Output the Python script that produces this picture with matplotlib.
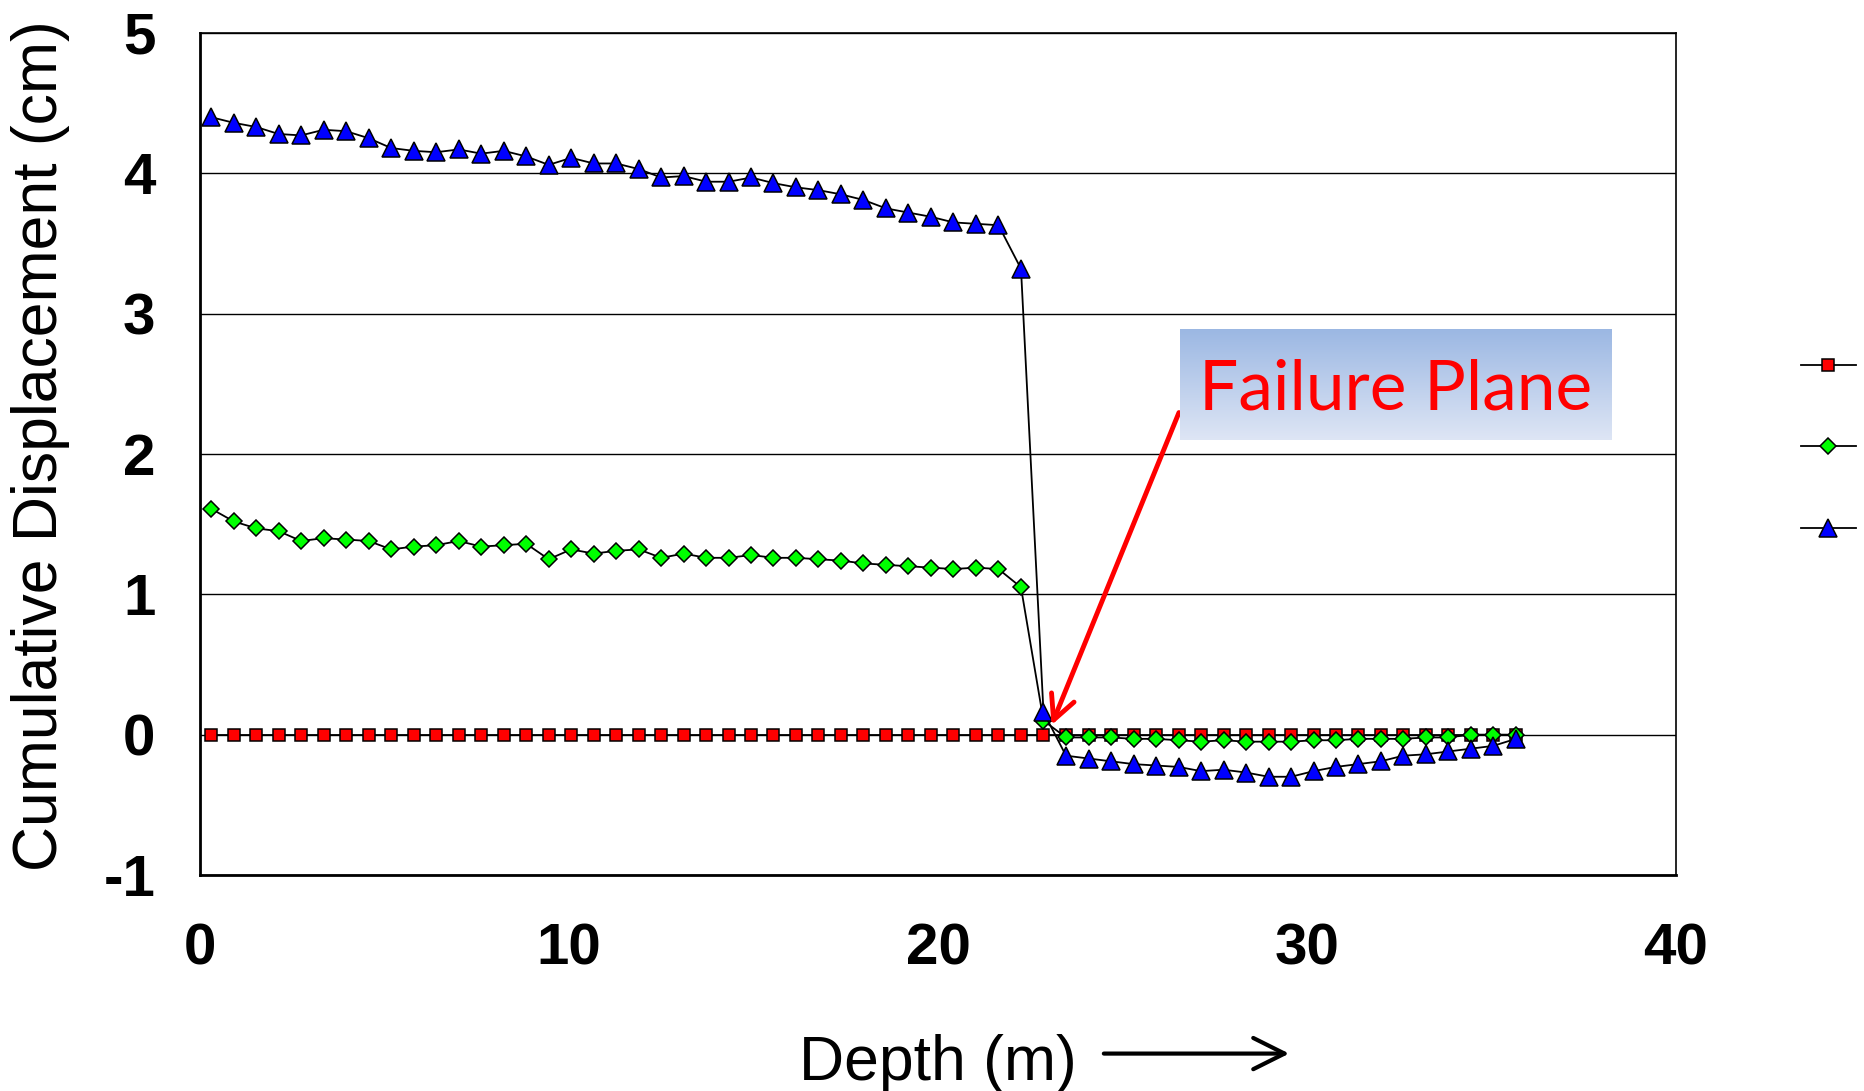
import matplotlib
matplotlib.use("Agg")
import matplotlib.pyplot as plt
import numpy as np
from matplotlib.lines import Line2D

plt.rcParams['font.family'] = ['Liberation Sans', 'DejaVu Sans']
plt.rcParams['axes.unicode_minus'] = False

# depth of each reading (m), one every 2 ft
depth = [0.30, 0.91, 1.52, 2.13, 2.74, 3.35, 3.96, 4.57, 5.18, 5.79,
         6.40, 7.01, 7.62, 8.23, 8.84, 9.45, 10.06, 10.67, 11.28, 11.89,
         12.50, 13.11, 13.72, 14.33, 14.94, 15.54, 16.15, 16.76, 17.37, 17.98,
         18.59, 19.20, 19.81, 20.42, 21.03, 21.64, 22.25, 22.86, 23.47, 24.08,
         24.69, 25.30, 25.91, 26.52, 27.13, 27.74, 28.35, 28.96, 29.57, 30.18,
         30.78, 31.39, 32.00, 32.61, 33.22, 33.83, 34.44, 35.05, 35.66]

# cumulative displacement (cm) for the three readings
disp_red = [0.0, 0.0, 0.0, 0.0, 0.0, 0.0, 0.0, 0.0, 0.0, 0.0,
            0.0, 0.0, 0.0, 0.0, 0.0, 0.0, 0.0, 0.0, 0.0, 0.0,
            0.0, 0.0, 0.0, 0.0, 0.0, 0.0, 0.0, 0.0, 0.0, 0.0,
            0.0, 0.0, 0.0, 0.0, 0.0, 0.0, 0.0, 0.0, 0.0, 0.0,
            0.0, 0.0, 0.0, 0.0, 0.0, 0.0, 0.0, 0.0, 0.0, 0.0,
            0.0, 0.0, 0.0, 0.0, 0.0, 0.0, 0.0, 0.0, 0.0]

disp_green = [1.61, 1.52, 1.47, 1.45, 1.38, 1.40, 1.39, 1.38, 1.32, 1.34,
              1.35, 1.38, 1.34, 1.35, 1.36, 1.25, 1.32, 1.29, 1.31, 1.32,
              1.26, 1.29, 1.26, 1.26, 1.28, 1.26, 1.26, 1.25, 1.24, 1.22,
              1.21, 1.20, 1.19, 1.18, 1.19, 1.18, 1.05, 0.10,
              -0.02, -0.02, -0.02, -0.03, -0.03, -0.04, -0.05, -0.04, -0.05, -0.05,
              -0.05, -0.04, -0.04, -0.03, -0.03, -0.03, -0.02, -0.02, 0.0, 0.0, 0.0]

disp_blue = [4.40, 4.36, 4.33, 4.28, 4.27, 4.31, 4.30, 4.25, 4.18, 4.16,
             4.15, 4.17, 4.14, 4.16, 4.12, 4.06, 4.11, 4.07, 4.07, 4.03,
             3.97, 3.98, 3.94, 3.94, 3.97, 3.93, 3.90, 3.88, 3.85, 3.81,
             3.75, 3.72, 3.69, 3.65, 3.64, 3.63, 3.32, 0.16,
             -0.15, -0.17, -0.19, -0.21, -0.22, -0.23, -0.26, -0.25, -0.27, -0.30,
             -0.30, -0.26, -0.23, -0.21, -0.19, -0.15, -0.14, -0.12, -0.10, -0.08, -0.03]

x_ticks = [0, 10, 20, 30, 40]
y_ticks = [-1, 0, 1, 2, 3, 4, 5]

fig = plt.figure(figsize=(18.64, 10.91), dpi=100)
ax = fig.add_axes([0.1073, 0.198, 0.7918, 0.7718])

series = [
    (disp_red, 's', '#ff0000', 9),
    (disp_green, 'D', '#00ff00', 8),
    (disp_blue, '^', '#0000ff', 12.5),
]
handles = []
for vals, mk, col, ms in series:
    ax.plot(depth, vals, color='black', lw=1.3, marker=mk, markersize=ms,
            markerfacecolor=col, markeredgecolor='black', markeredgewidth=1.1,
            zorder=3)
    handles.append(Line2D([], [], color='black', lw=1.3, marker=mk, markersize=ms,
                          markerfacecolor=col, markeredgecolor='black',
                          markeredgewidth=1.1))

ax.set_xlim(0, 40)
ax.set_ylim(-1, 5)
ax.set_xticks(x_ticks)
ax.set_yticks(y_ticks)
ax.yaxis.grid(True, color='black', lw=1.0)
ax.set_axisbelow(True)
ax.tick_params(length=0, labelsize=42)
ax.tick_params(axis='x', pad=34)
ax.tick_params(axis='y', pad=32)
for lab in ax.get_xticklabels() + ax.get_yticklabels():
    lab.set_fontweight('bold')

for side in ['left', 'bottom']:
    ax.spines[side].set_linewidth(2.0)
for side in ['top', 'right']:
    ax.spines[side].set_linewidth(1.2)

ax.set_ylabel('Cumulative Displacement (cm)', fontsize=45, va='center')
ax.yaxis.set_label_coords(-0.108, 0.51)
ax.set_xlabel('Depth (m)', fontsize=45, va='baseline')
ax.xaxis.set_label_coords(0.5, -0.2435)

# arrow after the x label
fig.patches.append(matplotlib.patches.FancyArrowPatch(
    (0.5907, 0.0343), (0.6931, 0.0343), transform=fig.transFigure,
    arrowstyle='->, head_length=0.9, head_width=0.45', mutation_scale=25,
    lw=3, color='black'))

# legend without labels, right of the plot
fig.legend(handles, [' ', ' ', ' '], loc='center', bbox_to_anchor=(0.983, 0.5885),
           frameon=False, fontsize=20, handlelength=1.95, handletextpad=0.0,
           labelspacing=2.0, borderpad=0)

# "Failure Plane" box with gradient fill
box = fig.add_axes([1180 / 1864, 1 - 440 / 1091, 432 / 1864, 111 / 1091])
top_col = np.array([0.61, 0.72, 0.89])
bot_col = np.array([0.87, 0.90, 0.96])
t = np.linspace(0, 1, 100)[:, None]
grad = (top_col[None, :] * (1 - t) + bot_col[None, :] * t)[:, None, :]
box.imshow(grad, aspect='auto', extent=[0, 1, 0, 1])
box.set_axis_off()
box.text(0.5, 0.45, 'Failure Plane', color='#ff0000', fontsize=50,
         family=['Lato', 'DejaVu Sans'], ha='center', va='center',
         transform=box.transAxes)

ax.annotate('', xy=(23.05, 0.05), xycoords='data',
            xytext=(1180 / 1864, 1 - 410 / 1091), textcoords='figure fraction',
            arrowprops=dict(arrowstyle='->, head_length=0.7, head_width=0.35',
                            mutation_scale=25, lw=3.5, color='#ff0000'),
            zorder=5)

plt.savefig('out.png', dpi=100)
